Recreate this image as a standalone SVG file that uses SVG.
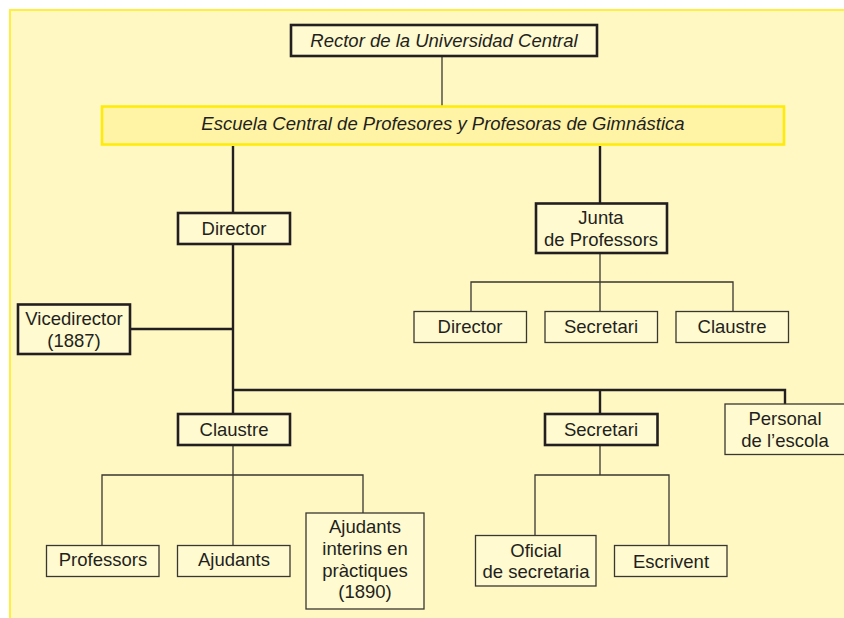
<svg xmlns="http://www.w3.org/2000/svg" width="844" height="618" viewBox="0 0 844 618">
<style>
  text { font-family: "Liberation Sans", Arial, sans-serif; font-size: 18.5px; fill: #231f20; text-anchor: middle; }
  .it { font-style: italic; }
  .thick { fill: #fffad0; stroke: #231f20; stroke-width: 2.6; }
  .thin { fill: #fffad0; stroke: #3a3630; stroke-width: 1.3; }
  .cthick { fill: none; stroke: #231f20; stroke-width: 2.4; }
  .cthin { fill: none; stroke: #3a3630; stroke-width: 1.3; }
</style>
<rect x="0" y="0" width="844" height="618" fill="#ffffff"/>
<rect x="10" y="10" width="840" height="615" fill="#fff8c3" stroke="#ffee3c" stroke-width="2"/>

<g id="connectors">
  <line class="cthin" x1="442" y1="56" x2="442" y2="106"/>
  <line class="cthick" x1="233" y1="146" x2="233" y2="212"/>
  <line class="cthick" x1="600" y1="146" x2="600" y2="203"/>
  <path class="cthin" d="M600 253 V282 M471 311 V282 H733 V311 M600 282 V311"/>
  <path class="cthick" d="M233 244 V390 M130 329 H233 M233 390 H785 V404 M233 390 V413 M600 390 V413"/>
  <path class="cthin" d="M233 445 V545 M102 545 V475 H363 V513"/>
  <path class="cthin" d="M600 445 V475 M535 535 V475 H669 V545"/>
</g>

<g id="rector">
  <rect class="thick" x="291" y="25" width="306" height="31"/>
  <text class="it" x="444" y="47">Rector de la Universidad Central</text>
</g>
<g id="escuela">
  <rect x="102" y="106.5" width="682" height="38" fill="#fff4a6" stroke="#ffeb0a" stroke-width="2.6"/>
  <text class="it" x="443" y="129.5">Escuela Central de Profesores y Profesoras de Gimnástica</text>
</g>
<g id="director">
  <rect class="thick" x="178" y="213" width="112" height="31"/>
  <text x="234" y="235">Director</text>
</g>
<g id="junta">
  <rect class="thick" x="536" y="203.5" width="131" height="49.5"/>
  <text x="601" y="224">Junta</text>
  <text x="601" y="245.7">de Professors</text>
</g>
<g id="junta-director">
  <rect class="thin" x="414" y="311.5" width="112.5" height="31"/>
  <text x="470" y="333.3">Director</text>
</g>
<g id="junta-secretari">
  <rect class="thin" x="545" y="311.5" width="112.5" height="31"/>
  <text x="601" y="333.3">Secretari</text>
</g>
<g id="junta-claustre">
  <rect class="thin" x="676" y="311.5" width="112.5" height="31"/>
  <text x="732" y="333.3">Claustre</text>
</g>
<g id="vicedirector">
  <rect class="thick" x="18" y="304.5" width="112" height="49.5"/>
  <text x="74" y="325">Vicedirector</text>
  <text x="74" y="346.7">(1887)</text>
</g>
<g id="claustre">
  <rect class="thick" x="178" y="414" width="112" height="31"/>
  <text x="234" y="435.7">Claustre</text>
</g>
<g id="secretari">
  <rect class="thick" x="545" y="414" width="112.5" height="31"/>
  <text x="601" y="435.7">Secretari</text>
</g>
<g id="personal">
  <rect class="thin" x="725" y="404" width="125" height="50.5"/>
  <text x="785" y="425">Personal</text>
  <text x="785" y="446.7">de l’escola</text>
</g>
<g id="professors">
  <rect class="thin" x="46.5" y="545.5" width="112.5" height="31"/>
  <text x="103" y="565.7">Professors</text>
</g>
<g id="ajudants">
  <rect class="thin" x="177.5" y="545.5" width="112.5" height="31"/>
  <text x="234" y="565.7">Ajudants</text>
</g>
<g id="ajudants-interins">
  <rect class="thin" x="306" y="513" width="118" height="96"/>
  <text x="365" y="532.7">Ajudants</text>
  <text x="365" y="555">interins en</text>
  <text x="365" y="576.7">pràctiques</text>
  <text x="365" y="598.3">(1890)</text>
</g>
<g id="oficial">
  <rect class="thin" x="475.5" y="535.5" width="120.5" height="50.5"/>
  <text x="536" y="556.7">Oficial</text>
  <text x="536" y="578.3">de secretaria</text>
</g>
<g id="escrivent">
  <rect class="thin" x="614.5" y="545.5" width="112.5" height="31"/>
  <text x="671" y="568">Escrivent</text>
</g>
</svg>
